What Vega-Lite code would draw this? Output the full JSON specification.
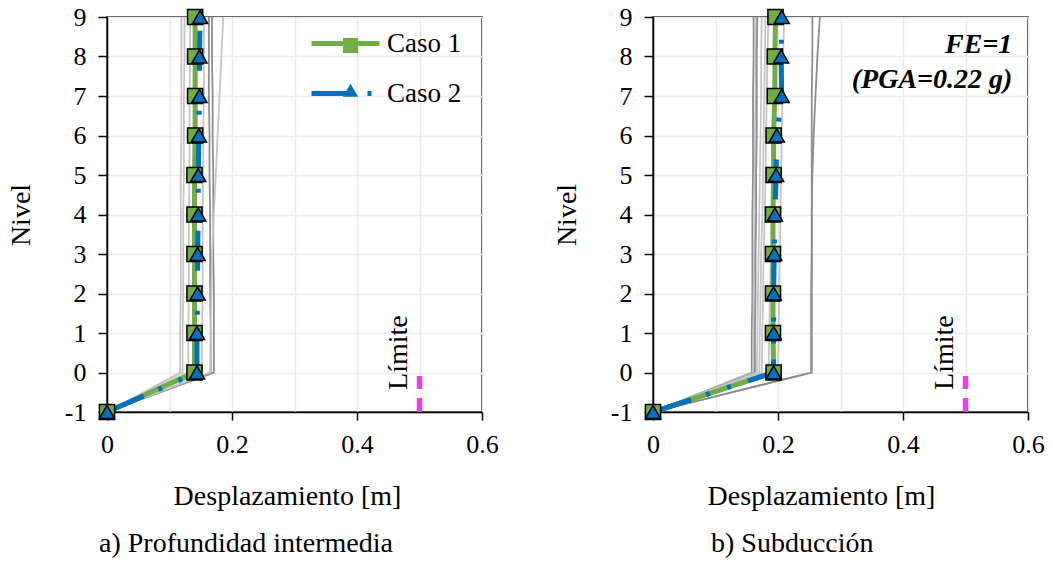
{
  "$schema": "https://vega.github.io/schema/vega-lite/v6.json",
  "background": "white",
  "padding": {"left": 6, "top": 3, "right": 0, "bottom": 0},
  "config": {
    "font": "'Liberation Serif', 'Times New Roman', serif",
    "view": {"stroke": "black", "strokeWidth": 1.5},
    "concat": {"spacing": 53},
    "axis": {
      "labelFont": "'Liberation Serif', 'Times New Roman', serif", "labelFontSize": 26, "labelColor": "black",
      "titleFont": "'Liberation Serif', 'Times New Roman', serif", "titleFontSize": 28, "titleFontWeight": "normal", "titleColor": "black",
      "domainColor": "black", "domainWidth": 1.5, "tickColor": "black", "tickWidth": 1.5,
      "gridColor": "#ebebeb", "gridWidth": 1.5, "labelOverlap": false, "labelFlush": false
    },
    "axisX": {"tickSize": 8, "labelPadding": 11, "titlePadding": 25},
    "axisY": {"tickSize": 9, "labelPadding": 12, "titlePadding": 29},
    "legend": {"labelFont": "'Liberation Serif', 'Times New Roman', serif"},
    "title": {"font": "'Liberation Serif', 'Times New Roman', serif", "fontSize": 28, "fontWeight": "normal", "color": "black"}
  },
  "datasets": {
    "izq": [
      {"serie": "G1", "tono": "claro", "nivel": -1, "d": 0}, {"serie": "G1", "tono": "claro", "nivel": 0, "d": 0.117}, {"serie": "G1", "tono": "claro", "nivel": 1, "d": 0.117}, {"serie": "G1", "tono": "claro", "nivel": 2, "d": 0.118}, {"serie": "G1", "tono": "claro", "nivel": 3, "d": 0.118}, {"serie": "G1", "tono": "claro", "nivel": 4, "d": 0.118}, {"serie": "G1", "tono": "claro", "nivel": 5, "d": 0.118}, {"serie": "G1", "tono": "claro", "nivel": 6, "d": 0.119}, {"serie": "G1", "tono": "claro", "nivel": 7, "d": 0.119}, {"serie": "G1", "tono": "claro", "nivel": 8, "d": 0.119}, {"serie": "G1", "tono": "claro", "nivel": 9, "d": 0.119},
      {"serie": "G2", "tono": "claro", "nivel": -1, "d": 0}, {"serie": "G2", "tono": "claro", "nivel": 0, "d": 0.121}, {"serie": "G2", "tono": "claro", "nivel": 1, "d": 0.121}, {"serie": "G2", "tono": "claro", "nivel": 2, "d": 0.122}, {"serie": "G2", "tono": "claro", "nivel": 3, "d": 0.122}, {"serie": "G2", "tono": "claro", "nivel": 4, "d": 0.122}, {"serie": "G2", "tono": "claro", "nivel": 5, "d": 0.123}, {"serie": "G2", "tono": "claro", "nivel": 6, "d": 0.123}, {"serie": "G2", "tono": "claro", "nivel": 7, "d": 0.123}, {"serie": "G2", "tono": "claro", "nivel": 8, "d": 0.124}, {"serie": "G2", "tono": "claro", "nivel": 9, "d": 0.124},
      {"serie": "G3", "tono": "claro", "nivel": -1, "d": 0}, {"serie": "G3", "tono": "claro", "nivel": 0, "d": 0.13}, {"serie": "G3", "tono": "claro", "nivel": 1, "d": 0.13}, {"serie": "G3", "tono": "claro", "nivel": 2, "d": 0.131}, {"serie": "G3", "tono": "claro", "nivel": 3, "d": 0.131}, {"serie": "G3", "tono": "claro", "nivel": 4, "d": 0.131}, {"serie": "G3", "tono": "claro", "nivel": 5, "d": 0.132}, {"serie": "G3", "tono": "claro", "nivel": 6, "d": 0.132}, {"serie": "G3", "tono": "claro", "nivel": 7, "d": 0.132}, {"serie": "G3", "tono": "claro", "nivel": 8, "d": 0.133}, {"serie": "G3", "tono": "claro", "nivel": 9, "d": 0.133},
      {"serie": "G4", "tono": "claro", "nivel": -1, "d": 0}, {"serie": "G4", "tono": "claro", "nivel": 0, "d": 0.152}, {"serie": "G4", "tono": "claro", "nivel": 1, "d": 0.152}, {"serie": "G4", "tono": "claro", "nivel": 2, "d": 0.153}, {"serie": "G4", "tono": "claro", "nivel": 3, "d": 0.153}, {"serie": "G4", "tono": "claro", "nivel": 4, "d": 0.153}, {"serie": "G4", "tono": "claro", "nivel": 5, "d": 0.154}, {"serie": "G4", "tono": "claro", "nivel": 6, "d": 0.154}, {"serie": "G4", "tono": "claro", "nivel": 7, "d": 0.155}, {"serie": "G4", "tono": "claro", "nivel": 8, "d": 0.155}, {"serie": "G4", "tono": "claro", "nivel": 9, "d": 0.155},
      {"serie": "G5", "tono": "oscuro", "nivel": -1, "d": 0}, {"serie": "G5", "tono": "oscuro", "nivel": 0, "d": 0.166}, {"serie": "G5", "tono": "oscuro", "nivel": 1, "d": 0.166}, {"serie": "G5", "tono": "oscuro", "nivel": 2, "d": 0.165}, {"serie": "G5", "tono": "oscuro", "nivel": 3, "d": 0.165}, {"serie": "G5", "tono": "oscuro", "nivel": 4, "d": 0.165}, {"serie": "G5", "tono": "oscuro", "nivel": 5, "d": 0.164}, {"serie": "G5", "tono": "oscuro", "nivel": 6, "d": 0.164}, {"serie": "G5", "tono": "oscuro", "nivel": 7, "d": 0.163}, {"serie": "G5", "tono": "oscuro", "nivel": 8, "d": 0.163}, {"serie": "G5", "tono": "oscuro", "nivel": 9, "d": 0.163},
      {"serie": "G6", "tono": "oscuro", "nivel": -1, "d": 0}, {"serie": "G6", "tono": "oscuro", "nivel": 0, "d": 0.171}, {"serie": "G6", "tono": "oscuro", "nivel": 1, "d": 0.171}, {"serie": "G6", "tono": "oscuro", "nivel": 2, "d": 0.171}, {"serie": "G6", "tono": "oscuro", "nivel": 3, "d": 0.17}, {"serie": "G6", "tono": "oscuro", "nivel": 4, "d": 0.17}, {"serie": "G6", "tono": "oscuro", "nivel": 5, "d": 0.17}, {"serie": "G6", "tono": "oscuro", "nivel": 6, "d": 0.169}, {"serie": "G6", "tono": "oscuro", "nivel": 7, "d": 0.169}, {"serie": "G6", "tono": "oscuro", "nivel": 8, "d": 0.168}, {"serie": "G6", "tono": "oscuro", "nivel": 9, "d": 0.168},
      {"serie": "G7", "tono": "claro", "nivel": -1, "d": 0}, {"serie": "G7", "tono": "claro", "nivel": 0, "d": 0.165}, {"serie": "G7", "tono": "claro", "nivel": 1, "d": 0.166}, {"serie": "G7", "tono": "claro", "nivel": 2, "d": 0.167}, {"serie": "G7", "tono": "claro", "nivel": 3, "d": 0.168}, {"serie": "G7", "tono": "claro", "nivel": 4, "d": 0.171}, {"serie": "G7", "tono": "claro", "nivel": 5, "d": 0.174}, {"serie": "G7", "tono": "claro", "nivel": 6, "d": 0.177}, {"serie": "G7", "tono": "claro", "nivel": 7, "d": 0.18}, {"serie": "G7", "tono": "claro", "nivel": 8, "d": 0.183}, {"serie": "G7", "tono": "claro", "nivel": 9, "d": 0.186},
      {"serie": "Caso 1", "tono": "caso", "nivel": -1, "d": 0}, {"serie": "Caso 1", "tono": "caso", "nivel": 0, "d": 0.14}, {"serie": "Caso 1", "tono": "caso", "nivel": 1, "d": 0.14}, {"serie": "Caso 1", "tono": "caso", "nivel": 2, "d": 0.14}, {"serie": "Caso 1", "tono": "caso", "nivel": 3, "d": 0.14}, {"serie": "Caso 1", "tono": "caso", "nivel": 4, "d": 0.14}, {"serie": "Caso 1", "tono": "caso", "nivel": 5, "d": 0.14}, {"serie": "Caso 1", "tono": "caso", "nivel": 6, "d": 0.141}, {"serie": "Caso 1", "tono": "caso", "nivel": 7, "d": 0.141}, {"serie": "Caso 1", "tono": "caso", "nivel": 8, "d": 0.141}, {"serie": "Caso 1", "tono": "caso", "nivel": 9, "d": 0.141},
      {"serie": "Caso 2", "tono": "caso", "nivel": -1, "d": 0}, {"serie": "Caso 2", "tono": "caso", "nivel": 0, "d": 0.144}, {"serie": "Caso 2", "tono": "caso", "nivel": 1, "d": 0.144}, {"serie": "Caso 2", "tono": "caso", "nivel": 2, "d": 0.145}, {"serie": "Caso 2", "tono": "caso", "nivel": 3, "d": 0.145}, {"serie": "Caso 2", "tono": "caso", "nivel": 4, "d": 0.146}, {"serie": "Caso 2", "tono": "caso", "nivel": 5, "d": 0.146}, {"serie": "Caso 2", "tono": "caso", "nivel": 6, "d": 0.147}, {"serie": "Caso 2", "tono": "caso", "nivel": 7, "d": 0.148}, {"serie": "Caso 2", "tono": "caso", "nivel": 8, "d": 0.148}, {"serie": "Caso 2", "tono": "caso", "nivel": 9, "d": 0.149}
    ],
    "der": [
      {"serie": "R1", "tono": "oscuro", "nivel": -1, "d": 0}, {"serie": "R1", "tono": "oscuro", "nivel": 0, "d": 0.158}, {"serie": "R1", "tono": "oscuro", "nivel": 1, "d": 0.158}, {"serie": "R1", "tono": "oscuro", "nivel": 2, "d": 0.159}, {"serie": "R1", "tono": "oscuro", "nivel": 3, "d": 0.159}, {"serie": "R1", "tono": "oscuro", "nivel": 4, "d": 0.159}, {"serie": "R1", "tono": "oscuro", "nivel": 5, "d": 0.16}, {"serie": "R1", "tono": "oscuro", "nivel": 6, "d": 0.16}, {"serie": "R1", "tono": "oscuro", "nivel": 7, "d": 0.16}, {"serie": "R1", "tono": "oscuro", "nivel": 8, "d": 0.161}, {"serie": "R1", "tono": "oscuro", "nivel": 9, "d": 0.161},
      {"serie": "R2", "tono": "claro", "nivel": -1, "d": 0}, {"serie": "R2", "tono": "claro", "nivel": 0, "d": 0.16}, {"serie": "R2", "tono": "claro", "nivel": 1, "d": 0.161}, {"serie": "R2", "tono": "claro", "nivel": 2, "d": 0.161}, {"serie": "R2", "tono": "claro", "nivel": 3, "d": 0.162}, {"serie": "R2", "tono": "claro", "nivel": 4, "d": 0.162}, {"serie": "R2", "tono": "claro", "nivel": 5, "d": 0.163}, {"serie": "R2", "tono": "claro", "nivel": 6, "d": 0.163}, {"serie": "R2", "tono": "claro", "nivel": 7, "d": 0.164}, {"serie": "R2", "tono": "claro", "nivel": 8, "d": 0.164}, {"serie": "R2", "tono": "claro", "nivel": 9, "d": 0.165},
      {"serie": "R3", "tono": "oscuro", "nivel": -1, "d": 0}, {"serie": "R3", "tono": "oscuro", "nivel": 0, "d": 0.163}, {"serie": "R3", "tono": "oscuro", "nivel": 1, "d": 0.163}, {"serie": "R3", "tono": "oscuro", "nivel": 2, "d": 0.164}, {"serie": "R3", "tono": "oscuro", "nivel": 3, "d": 0.164}, {"serie": "R3", "tono": "oscuro", "nivel": 4, "d": 0.165}, {"serie": "R3", "tono": "oscuro", "nivel": 5, "d": 0.165}, {"serie": "R3", "tono": "oscuro", "nivel": 6, "d": 0.166}, {"serie": "R3", "tono": "oscuro", "nivel": 7, "d": 0.166}, {"serie": "R3", "tono": "oscuro", "nivel": 8, "d": 0.166}, {"serie": "R3", "tono": "oscuro", "nivel": 9, "d": 0.167},
      {"serie": "R4", "tono": "claro", "nivel": -1, "d": 0}, {"serie": "R4", "tono": "claro", "nivel": 0, "d": 0.166}, {"serie": "R4", "tono": "claro", "nivel": 1, "d": 0.167}, {"serie": "R4", "tono": "claro", "nivel": 2, "d": 0.168}, {"serie": "R4", "tono": "claro", "nivel": 3, "d": 0.169}, {"serie": "R4", "tono": "claro", "nivel": 4, "d": 0.17}, {"serie": "R4", "tono": "claro", "nivel": 5, "d": 0.171}, {"serie": "R4", "tono": "claro", "nivel": 6, "d": 0.172}, {"serie": "R4", "tono": "claro", "nivel": 7, "d": 0.173}, {"serie": "R4", "tono": "claro", "nivel": 8, "d": 0.173}, {"serie": "R4", "tono": "claro", "nivel": 9, "d": 0.174},
      {"serie": "R5", "tono": "claro", "nivel": -1, "d": 0}, {"serie": "R5", "tono": "claro", "nivel": 0, "d": 0.17}, {"serie": "R5", "tono": "claro", "nivel": 1, "d": 0.171}, {"serie": "R5", "tono": "claro", "nivel": 2, "d": 0.172}, {"serie": "R5", "tono": "claro", "nivel": 3, "d": 0.173}, {"serie": "R5", "tono": "claro", "nivel": 4, "d": 0.175}, {"serie": "R5", "tono": "claro", "nivel": 5, "d": 0.176}, {"serie": "R5", "tono": "claro", "nivel": 6, "d": 0.177}, {"serie": "R5", "tono": "claro", "nivel": 7, "d": 0.178}, {"serie": "R5", "tono": "claro", "nivel": 8, "d": 0.179}, {"serie": "R5", "tono": "claro", "nivel": 9, "d": 0.18},
      {"serie": "R6", "tono": "claro", "nivel": -1, "d": 0}, {"serie": "R6", "tono": "claro", "nivel": 0, "d": 0.174}, {"serie": "R6", "tono": "claro", "nivel": 1, "d": 0.175}, {"serie": "R6", "tono": "claro", "nivel": 2, "d": 0.176}, {"serie": "R6", "tono": "claro", "nivel": 3, "d": 0.177}, {"serie": "R6", "tono": "claro", "nivel": 4, "d": 0.179}, {"serie": "R6", "tono": "claro", "nivel": 5, "d": 0.18}, {"serie": "R6", "tono": "claro", "nivel": 6, "d": 0.181}, {"serie": "R6", "tono": "claro", "nivel": 7, "d": 0.182}, {"serie": "R6", "tono": "claro", "nivel": 8, "d": 0.183}, {"serie": "R6", "tono": "claro", "nivel": 9, "d": 0.185},
      {"serie": "R7", "tono": "claro", "nivel": -1, "d": 0}, {"serie": "R7", "tono": "claro", "nivel": 0, "d": 0.185}, {"serie": "R7", "tono": "claro", "nivel": 1, "d": 0.186}, {"serie": "R7", "tono": "claro", "nivel": 2, "d": 0.187}, {"serie": "R7", "tono": "claro", "nivel": 3, "d": 0.189}, {"serie": "R7", "tono": "claro", "nivel": 4, "d": 0.19}, {"serie": "R7", "tono": "claro", "nivel": 5, "d": 0.191}, {"serie": "R7", "tono": "claro", "nivel": 6, "d": 0.192}, {"serie": "R7", "tono": "claro", "nivel": 7, "d": 0.193}, {"serie": "R7", "tono": "claro", "nivel": 8, "d": 0.194}, {"serie": "R7", "tono": "claro", "nivel": 9, "d": 0.195},
      {"serie": "R8", "tono": "claro", "nivel": -1, "d": 0}, {"serie": "R8", "tono": "claro", "nivel": 0, "d": 0.2}, {"serie": "R8", "tono": "claro", "nivel": 1, "d": 0.201}, {"serie": "R8", "tono": "claro", "nivel": 2, "d": 0.202}, {"serie": "R8", "tono": "claro", "nivel": 3, "d": 0.203}, {"serie": "R8", "tono": "claro", "nivel": 4, "d": 0.204}, {"serie": "R8", "tono": "claro", "nivel": 5, "d": 0.205}, {"serie": "R8", "tono": "claro", "nivel": 6, "d": 0.206}, {"serie": "R8", "tono": "claro", "nivel": 7, "d": 0.207}, {"serie": "R8", "tono": "claro", "nivel": 8, "d": 0.208}, {"serie": "R8", "tono": "claro", "nivel": 9, "d": 0.21},
      {"serie": "R9", "tono": "oscuro", "nivel": -1, "d": 0}, {"serie": "R9", "tono": "oscuro", "nivel": 0, "d": 0.253}, {"serie": "R9", "tono": "oscuro", "nivel": 1, "d": 0.253}, {"serie": "R9", "tono": "oscuro", "nivel": 2, "d": 0.253}, {"serie": "R9", "tono": "oscuro", "nivel": 3, "d": 0.254}, {"serie": "R9", "tono": "oscuro", "nivel": 4, "d": 0.254}, {"serie": "R9", "tono": "oscuro", "nivel": 5, "d": 0.254}, {"serie": "R9", "tono": "oscuro", "nivel": 6, "d": 0.254}, {"serie": "R9", "tono": "oscuro", "nivel": 7, "d": 0.254}, {"serie": "R9", "tono": "oscuro", "nivel": 8, "d": 0.255}, {"serie": "R9", "tono": "oscuro", "nivel": 9, "d": 0.255},
      {"serie": "R10", "tono": "oscuro", "nivel": -1, "d": 0}, {"serie": "R10", "tono": "oscuro", "nivel": 0, "d": 0.254}, {"serie": "R10", "tono": "oscuro", "nivel": 1, "d": 0.254}, {"serie": "R10", "tono": "oscuro", "nivel": 2, "d": 0.254}, {"serie": "R10", "tono": "oscuro", "nivel": 3, "d": 0.254}, {"serie": "R10", "tono": "oscuro", "nivel": 4, "d": 0.254}, {"serie": "R10", "tono": "oscuro", "nivel": 5, "d": 0.255}, {"serie": "R10", "tono": "oscuro", "nivel": 6, "d": 0.257}, {"serie": "R10", "tono": "oscuro", "nivel": 7, "d": 0.26}, {"serie": "R10", "tono": "oscuro", "nivel": 8, "d": 0.263}, {"serie": "R10", "tono": "oscuro", "nivel": 9, "d": 0.267},
      {"serie": "Caso 1", "tono": "caso", "nivel": -1, "d": 0}, {"serie": "Caso 1", "tono": "caso", "nivel": 0, "d": 0.193}, {"serie": "Caso 1", "tono": "caso", "nivel": 1, "d": 0.192}, {"serie": "Caso 1", "tono": "caso", "nivel": 2, "d": 0.192}, {"serie": "Caso 1", "tono": "caso", "nivel": 3, "d": 0.192}, {"serie": "Caso 1", "tono": "caso", "nivel": 4, "d": 0.192}, {"serie": "Caso 1", "tono": "caso", "nivel": 5, "d": 0.193}, {"serie": "Caso 1", "tono": "caso", "nivel": 6, "d": 0.193}, {"serie": "Caso 1", "tono": "caso", "nivel": 7, "d": 0.195}, {"serie": "Caso 1", "tono": "caso", "nivel": 8, "d": 0.195}, {"serie": "Caso 1", "tono": "caso", "nivel": 9, "d": 0.196},
      {"serie": "Caso 2", "tono": "caso", "nivel": -1, "d": 0}, {"serie": "Caso 2", "tono": "caso", "nivel": 0, "d": 0.193}, {"serie": "Caso 2", "tono": "caso", "nivel": 1, "d": 0.193}, {"serie": "Caso 2", "tono": "caso", "nivel": 2, "d": 0.193}, {"serie": "Caso 2", "tono": "caso", "nivel": 3, "d": 0.194}, {"serie": "Caso 2", "tono": "caso", "nivel": 4, "d": 0.195}, {"serie": "Caso 2", "tono": "caso", "nivel": 5, "d": 0.197}, {"serie": "Caso 2", "tono": "caso", "nivel": 6, "d": 0.198}, {"serie": "Caso 2", "tono": "caso", "nivel": 7, "d": 0.206}, {"serie": "Caso 2", "tono": "caso", "nivel": 8, "d": 0.205}, {"serie": "Caso 2", "tono": "caso", "nivel": 9, "d": 0.206}
    ],
    "limite": [{"nivel": -1, "d": 0.5}, {"nivel": -0.09, "d": 0.5}],
    "etiquetaLimite": [{"nivel": -0.44, "d": 0.48, "texto": "Límite"}],
    "fe": [{"nivel": 8.29, "d": 0.575, "texto": "FE=1"}, {"nivel": 7.4, "d": 0.575, "texto": "(PGA=0.22 g)"}]
  },
  "hconcat": [
    {
      "width": 375, "height": 395,
      "title": {"text": "a) Profundidad intermedia", "orient": "bottom", "anchor": "start", "frame": "group", "dx": -8, "offset": 20},
      "encoding": {
        "x": {"field": "d", "type": "quantitative", "scale": {"domain": [0, 0.6], "nice": false},
              "axis": {"title": "Desplazamiento [m]", "titleX": 180, "values": [0, 0.1, 0.2, 0.3, 0.4, 0.5, 0.6], "format": "~g",
                       "labelExpr": "round(datum.value*10) % 2 == 0 ? datum.label : ''",
                       "tickOpacity": {"condition": {"test": "round(datum.value*10) % 2 == 1", "value": 0}, "value": 1}}},
        "y": {"field": "nivel", "type": "quantitative", "scale": {"domain": [-1, 9], "nice": false},
              "axis": {"title": "Nivel", "values": [-1, 0, 1, 2, 3, 4, 5, 6, 7, 8, 9],
                       "labelExpr": "datum.value < 0 ? '-' + abs(datum.value) : datum.label"}}
      },
      "layer": [
        {
          "data": {"name": "izq"},
          "transform": [{"filter": "datum.tono != 'caso'"}],
          "mark": {"type": "line", "strokeWidth": 1.8},
          "encoding": {
            "detail": {"field": "serie", "type": "nominal"},
            "order": {"field": "nivel", "type": "quantitative"},
            "color": {"field": "tono", "type": "nominal", "scale": {"domain": ["claro", "oscuro"], "range": ["#c6c6c6", "#8e8e8e"]}, "legend": null}
          }
        },
        {
          "data": {"name": "izq"},
          "transform": [{"filter": "datum.tono == 'caso'"}],
          "mark": {"type": "line", "strokeWidth": 5},
          "encoding": {
            "order": {"field": "nivel", "type": "quantitative"},
            "stroke": {"field": "serie", "type": "nominal", "scale": {"domain": ["Caso 1", "Caso 2"], "range": ["#70AD47", "#0070C0"]},
                       "legend": {"title": null, "orient": "none", "legendX": 202, "legendY": -10, "padding": 0,
                                  "symbolType": "stroke", "symbolSize": 4624, "symbolStrokeWidth": 5,
                                  "labelFontSize": 27, "labelColor": "black", "labelOffset": 5, "rowPadding": -1.3}},
            "strokeDash": {"field": "serie", "type": "nominal", "scale": {"domain": ["Caso 1", "Caso 2"], "range": [[1, 0], [40, 16, 4, 18, 4, 18]]},
                       "legend": {"title": null, "orient": "none", "legendX": 202, "legendY": -10, "padding": 0,
                                  "symbolType": "stroke", "symbolSize": 4624, "symbolStrokeWidth": 5,
                                  "labelFontSize": 27, "labelColor": "black", "labelOffset": 5, "rowPadding": -1.3}}
          }
        },
        {
          "data": {"name": "izq"},
          "transform": [{"filter": "datum.tono == 'caso'"}],
          "mark": {"type": "point", "filled": true, "stroke": "black", "strokeWidth": 1.5, "size": 230, "opacity": 1},
          "encoding": {
            "fill": {"field": "serie", "type": "nominal", "scale": {"range": ["#70AD47", "#0070C0"]},
                     "legend": {"title": null, "orient": "none", "legendX": 230, "legendY": 15, "padding": 0,
                                "symbolSize": 230, "symbolStrokeColor": "black", "symbolStrokeWidth": 1.5, "symbolOpacity": 1,
                                "labelFontSize": 27, "labelExpr": "''", "rowPadding": 16.7}},
            "shape": {"field": "serie", "type": "nominal", "scale": {"range": ["square", "triangle-up"]},
                     "legend": {"title": null, "orient": "none", "legendX": 230, "legendY": 15, "padding": 0,
                                "symbolSize": 230, "symbolStrokeColor": "black", "symbolStrokeWidth": 1.5, "symbolOpacity": 1,
                                "labelFontSize": 27, "labelExpr": "''", "rowPadding": 16.7}}
          }
        },
        {
          "data": {"name": "limite"},
          "mark": {"type": "line", "color": "#E645E6", "strokeWidth": 5.5, "strokeDash": [14, 9]},
          "encoding": {"order": {"field": "nivel", "type": "quantitative"}}
        },
        {
          "data": {"name": "etiquetaLimite"},
          "mark": {"type": "text", "angle": 270, "align": "left", "baseline": "alphabetic", "fontSize": 28, "color": "black"},
          "encoding": {"text": {"field": "texto"}}
        }
      ]
    },
    {
      "width": 375, "height": 395,
      "title": {"text": "b) Subducción", "orient": "bottom", "anchor": "start", "frame": "group", "dx": 58, "offset": 20},
      "encoding": {
        "x": {"field": "d", "type": "quantitative", "scale": {"domain": [0, 0.6], "nice": false},
              "axis": {"title": "Desplazamiento [m]", "titleX": 168, "values": [0, 0.1, 0.2, 0.3, 0.4, 0.5, 0.6], "format": "~g",
                       "labelExpr": "round(datum.value*10) % 2 == 0 ? datum.label : ''",
                       "tickOpacity": {"condition": {"test": "round(datum.value*10) % 2 == 1", "value": 0}, "value": 1}}},
        "y": {"field": "nivel", "type": "quantitative", "scale": {"domain": [-1, 9], "nice": false},
              "axis": {"title": "Nivel", "values": [-1, 0, 1, 2, 3, 4, 5, 6, 7, 8, 9],
                       "labelExpr": "datum.value < 0 ? '-' + abs(datum.value) : datum.label"}}
      },
      "layer": [
        {
          "data": {"name": "der"},
          "transform": [{"filter": "datum.tono != 'caso'"}],
          "mark": {"type": "line", "strokeWidth": 1.8},
          "encoding": {
            "detail": {"field": "serie", "type": "nominal"},
            "order": {"field": "nivel", "type": "quantitative"},
            "color": {"field": "tono", "type": "nominal", "scale": {"domain": ["claro", "oscuro"], "range": ["#c6c6c6", "#8e8e8e"]}, "legend": null}
          }
        },
        {
          "data": {"name": "der"},
          "transform": [{"filter": "datum.tono == 'caso'"}],
          "mark": {"type": "line", "strokeWidth": 5},
          "encoding": {
            "order": {"field": "nivel", "type": "quantitative"},
            "stroke": {"field": "serie", "type": "nominal", "scale": {"domain": ["Caso 1", "Caso 2"], "range": ["#70AD47", "#0070C0"]}, "legend": null},
            "strokeDash": {"field": "serie", "type": "nominal", "scale": {"domain": ["Caso 1", "Caso 2"], "range": [[1, 0], [40, 16, 4, 18, 4, 18]]}, "legend": null}
          }
        },
        {
          "data": {"name": "der"},
          "transform": [{"filter": "datum.tono == 'caso'"}],
          "mark": {"type": "point", "filled": true, "stroke": "black", "strokeWidth": 1.5, "size": 230, "opacity": 1},
          "encoding": {
            "fill": {"field": "serie", "type": "nominal", "scale": {"range": ["#70AD47", "#0070C0"]}, "legend": null},
            "shape": {"field": "serie", "type": "nominal", "scale": {"range": ["square", "triangle-up"]}, "legend": null}
          }
        },
        {
          "data": {"name": "limite"},
          "mark": {"type": "line", "color": "#E645E6", "strokeWidth": 5.5, "strokeDash": [14, 9]},
          "encoding": {"order": {"field": "nivel", "type": "quantitative"}}
        },
        {
          "data": {"name": "etiquetaLimite"},
          "mark": {"type": "text", "angle": 270, "align": "left", "baseline": "alphabetic", "fontSize": 28, "color": "black"},
          "encoding": {"text": {"field": "texto"}}
        },
        {
          "data": {"name": "fe"},
          "mark": {"type": "text", "align": "right", "baseline": "middle", "fontSize": 28, "fontStyle": "italic", "fontWeight": "bold", "color": "black"},
          "encoding": {"text": {"field": "texto"}}
        }
      ]
    }
  ]
}
